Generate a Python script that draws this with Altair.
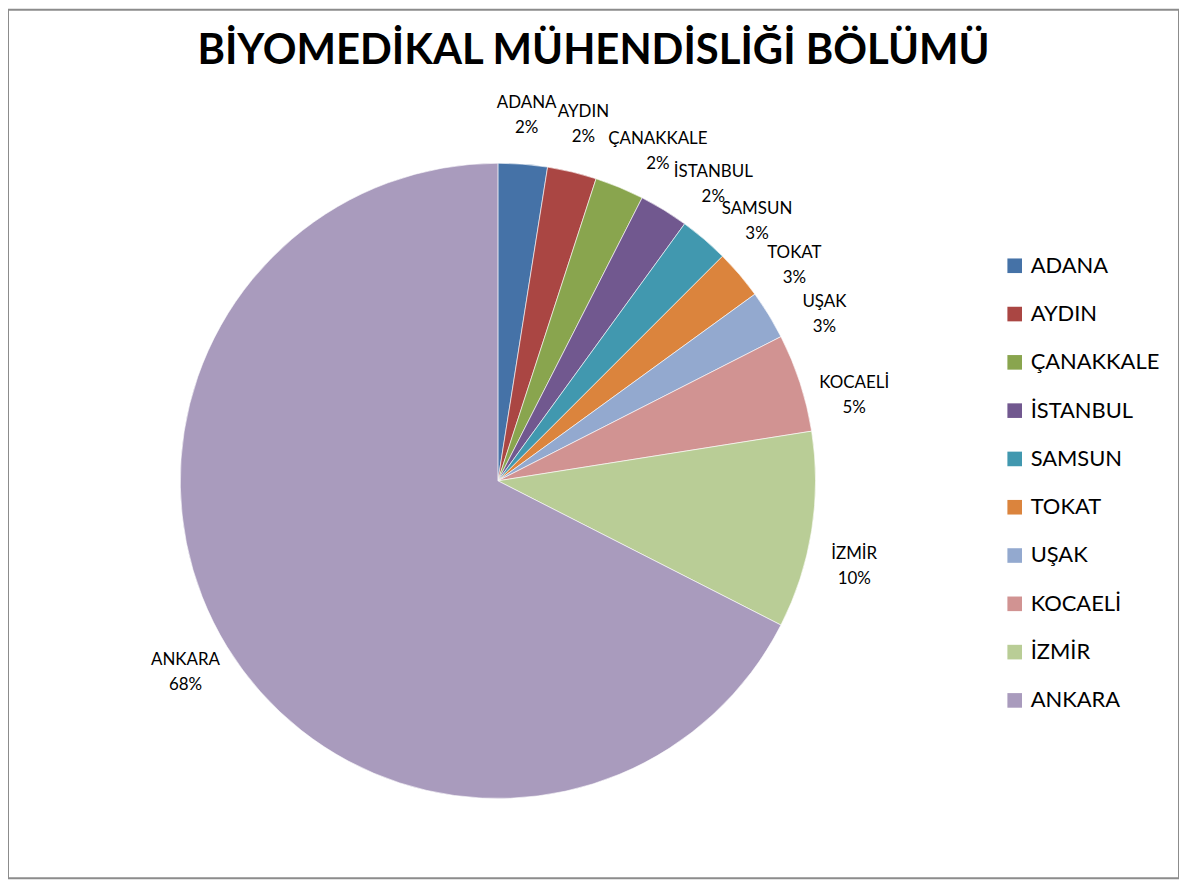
import altair as alt
import pandas as pd

categories = ["ADANA", "AYDIN", "ÇANAKKALE", "İSTANBUL", "SAMSUN", "TOKAT", "UŞAK", "KOCAELİ", "İZMİR", "ANKARA"]
counts = [1, 1, 1, 1, 1, 1, 1, 2, 4, 27]
pct_labels = ["2%", "2%", "2%", "2%", "3%", "3%", "3%", "5%", "10%", "68%"]
colors = ["#4572A7", "#AA4643", "#89A54E", "#71588F", "#4198AF", "#DB843D", "#93A9CF", "#D19392", "#B9CD96", "#A99BBD"]

df = pd.DataFrame({
    "il": categories,
    "n": counts,
    "pct": pct_labels,
    "ord": list(range(len(categories))),
})

FONT = "Lato"
W, H = 1176, 872
CX, CY, R = 492, 473, 319
RR = 368            # radius of the label ring (label block centres)
DRIFT = 4.5         # clockwise drift (degrees) of crowded labels on the right
LINE_H = 25

base = alt.Chart(df).encode(
    theta=alt.Theta("n:Q", stack=True),
    order=alt.Order("ord:Q", sort="ascending"),
)

pie = base.mark_arc(outerRadius=R, stroke="white", strokeWidth=0.6).encode(
    x=alt.value(CX),
    y=alt.value(CY),
    color=alt.Color(
        "il:N",
        scale=alt.Scale(domain=categories, range=colors),
        sort=categories,
        legend=alt.Legend(
            title=None,
            orient="none",
            legendX=1000,
            legendY=246,
            symbolType="square",
            symbolSize=215,
            symbolStrokeWidth=0,
            symbolOpacity=1,
            labelFont=FONT,
            labelFontSize=22,
            labelColor="#000000",
            labelOffset=5,
            rowPadding=26.5,
            labelLimit=300,
        ),
    ),
)

labels = alt.Chart(df).transform_window(
    cum="sum(n)", sort=[alt.SortField("ord")], frame=[None, 0]
).transform_joinaggregate(
    total="sum(n)"
).transform_calculate(
    deg="(datum.cum - datum.n / 2) / datum.total * 360",
).transform_calculate(
    phi=f"(datum.deg + (datum.deg < 180 ? {DRIFT} * clamp((datum.deg - 13.5) / 12, 0, 1) : 0)) * PI / 180",
).transform_calculate(
    lx=f"{CX} + {RR} * sin(datum.phi)",
    ly=f"{CY} - {RR} * cos(datum.phi) - {LINE_H / 2}",
    lab="datum.il + '\\n' + datum.pct",
).mark_text(
    font=FONT,
    fontSize=17,
    color="#000000",
    lineBreak="\n",
    lineHeight=LINE_H,
    align="center",
    baseline="middle",
).encode(
    x=alt.X("lx:Q", scale=None),
    y=alt.Y("ly:Q", scale=None),
    text="lab:N",
)

chart = alt.layer(pie, labels).properties(
    width=W,
    height=H,
    autosize=alt.AutoSizeParams(type="none"),
    padding=0,
    title=alt.Title(
        "BİYOMEDİKAL MÜHENDİSLİĞİ BÖLÜMÜ",
        font=FONT,
        fontSize=42,
        fontWeight="bold",
        color="#000000",
        anchor="middle",
        orient="top",
        offset=-63,
    ),
).configure_view(
    stroke="#8c8c8c",
    strokeWidth=2,
    fill="white",
)

chart.save("out.html", embed_options={"renderer": "svg", "actions": False})
